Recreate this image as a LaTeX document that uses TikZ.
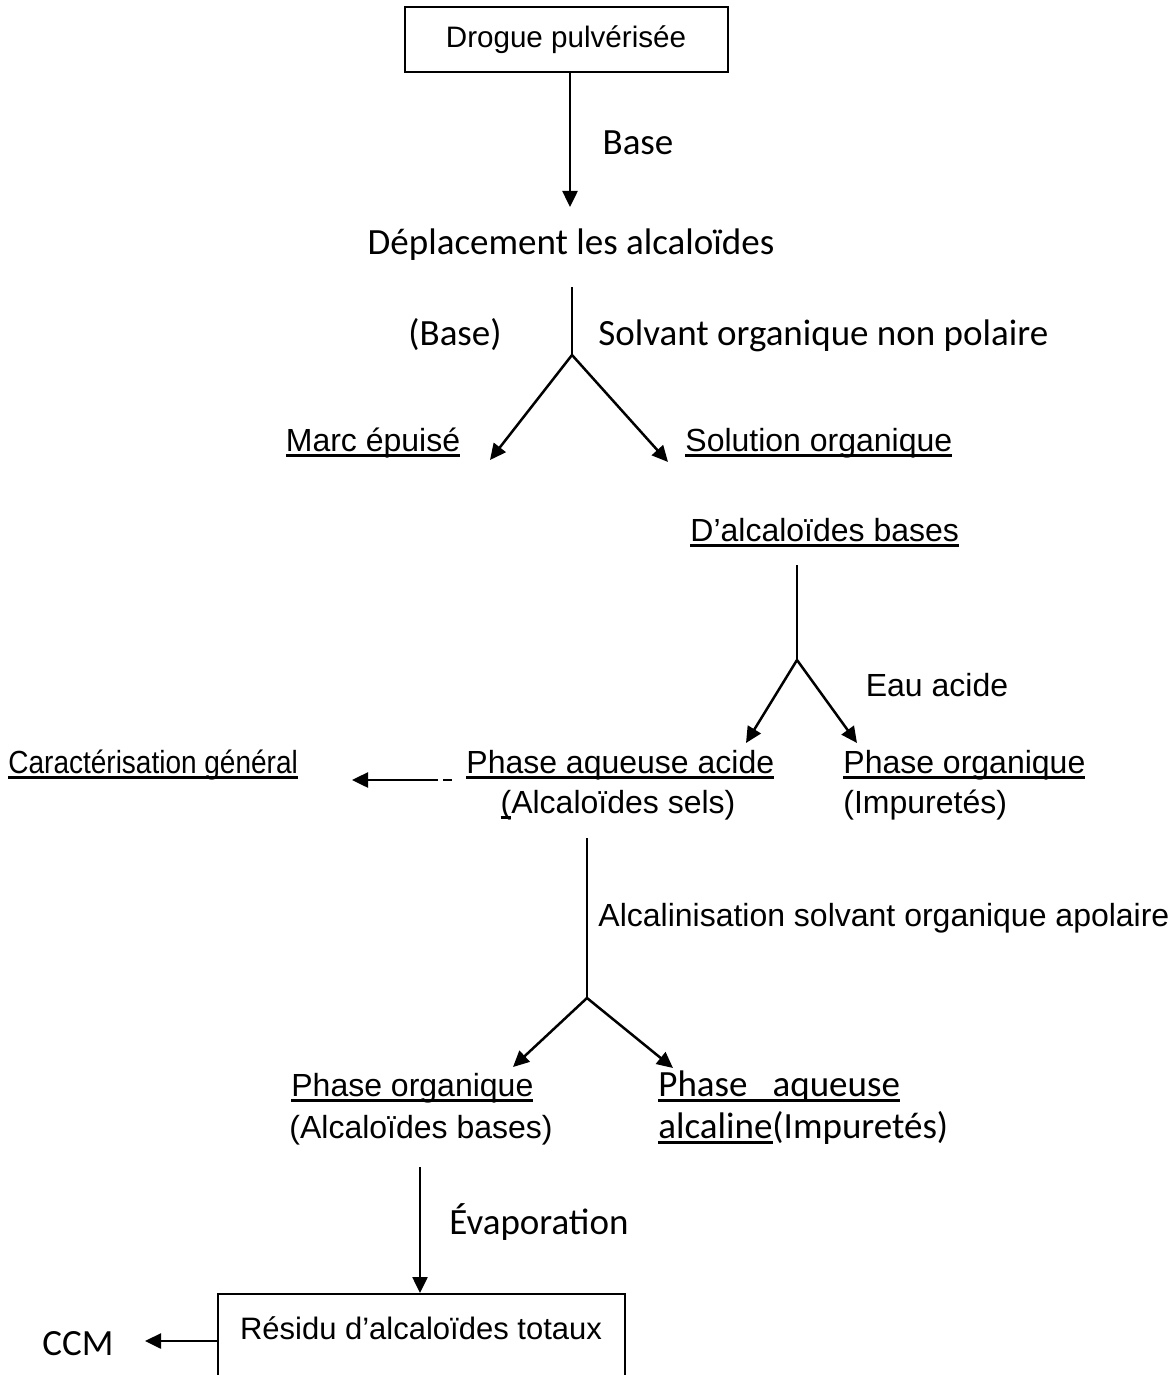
\documentclass[tikz,border=0pt]{standalone}
\usepackage{fontspec}
\setmainfont{Liberation Sans}
\newfontfamily\calibri{Carlito}
\newfontfamily\narrowsans[FakeStretch=0.875]{Liberation Sans}
\usetikzlibrary{arrows.meta}
\newdimen\pxunit
\setlength{\pxunit}{0.5pt}
\newcommand{\ulbox}[1]{\setbox0\hbox{#1}\rlap{\rule[-2.8pt]{\wd0}{1.4pt}}\box0}
\newcommand{\txtA}{\fontsize{16}{19}\selectfont}
\newcommand{\txtC}{\calibri\fontsize{18.5}{22}\selectfont}

\begin{document}
\begin{tikzpicture}[x=\pxunit,y=-\pxunit]
\tikzset{lbl/.style={inner sep=0pt, font=\txtA}}%
\tikzset{cal/.style={inner sep=0pt, font=\txtC}}%
\tikzset{arr/.style={line width=1.25pt, -{Triangle[length=8pt,width=7.5pt]}}}%
\tikzset{ln/.style={line width=1.2pt}}%
\tikzset{boxline/.style={draw, line width=1pt}}%
\useasboundingbox (0,0) rectangle (1174,1375);
\clip (0,0) rectangle (1174,1375);
% boxes
\node[boxline, inner sep=0pt, font=\fontsize{14.8}{18}\selectfont, minimum width=161.5pt, minimum height=32.5pt] (drogue) at (566,40) {Drogue pulv\'eris\'ee};
\node[boxline, minimum width=203.5pt, minimum height=60pt, anchor=north] (residubox) at (421,1293) {};
\node[lbl, font=\fontsize{15.5}{19}\selectfont, anchor=base] (residu) at (421,1339) {R\'esidu d’alcalo\"ides totaux};
% texts
\node[cal, anchor=base] (base) at (638,155) {Base};
\node[cal, anchor=base] (deplacement) at (571,255) {D\'eplacement les alcalo\"ides};
\node[cal, anchor=base] (basepar) at (455,345) {(Base)};
\node[cal, anchor=base west] (solvant) at (598,345) {Solvant organique non polaire};
\node[lbl, anchor=base] (marc) at (373,451) {\ulbox{Marc \'epuis\'e}};
\node[lbl, anchor=base west] (solution) at (685,451) {\ulbox{Solution organique}};
\node[lbl, anchor=base west] (dalcal) at (690,541) {\ulbox{D’alcalo\"ides bases}};
\node[lbl, anchor=base] (eau) at (937,696) {Eau acide};
\node[lbl, anchor=base west] (aqacid) at (466,773) {\ulbox{Phase aqueuse acide}};
\node[lbl, anchor=base] (alcsels) at (618,813) {\ulbox{(}Alcalo\"ides sels)};
\node[lbl, anchor=base west] (orgimp) at (843,773) {\ulbox{Phase organique}};
\node[lbl, anchor=base west] (impur) at (843,813) {(Impuret\'es)};
\node[inner sep=0pt, font=\narrowsans\fontsize{16}{19}\selectfont, anchor=base west] (caract) at (8,773) {\ulbox{Caract\'erisation g\'en\'eral}};
\node[lbl, anchor=base west] (alcalin) at (598,926) {Alcalinisation solvant organique apolaire};
\node[lbl, anchor=base west] (orgbase) at (291,1096) {\ulbox{Phase organique}};
\node[lbl, anchor=base west] (alcbases) at (289,1138) {(Alcalo\"ides bases)};
\node[cal, anchor=base west] (aqalc) at (658,1096) {\ulbox{Phase\ \ \ aqueuse}};
\node[cal, anchor=base west] (alcaline) at (658,1138) {\ulbox{alcaline}(Impuret\'es)};
\node[cal, anchor=base west] (evap) at (449,1234) {\'Evaporation};
\node[cal, anchor=base] (ccm) at (78,1355) {CCM};
% forks and arrow ends
\coordinate (a1) at (570,207);
\coordinate (t1) at (572,287);
\coordinate (f1) at (572,355);
\coordinate (m1) at (490,460);
\coordinate (s1) at (668,462);
\coordinate (t2) at (797,565);
\coordinate (f2) at (797,660);
\coordinate (m2) at (746,743);
\coordinate (s2) at (857,743);
\coordinate (t3) at (587,838);
\coordinate (f3) at (587,998);
\coordinate (m3) at (513,1067);
\coordinate (s3) at (673,1068);
\coordinate (t4) at (420,1167);
\coordinate (c1) at (452,780);
\coordinate (c2) at (352,780);
% connectors
\draw[arr] (drogue.south -| a1) -- (a1);
\draw[ln] (t1) -- (f1);
\draw[arr] (f1) -- (m1);
\draw[arr] (f1) -- (s1);
\draw[ln] (t2) -- (f2);
\draw[arr] (f2) -- (m2);
\draw[arr] (f2) -- (s2);
\draw[arr, dash pattern=on 4.5pt off 2.5pt on 200pt] (c1) -- (c2);
\draw[ln] (t3) -- (f3);
\draw[arr] (f3) -- (m3);
\draw[arr] (f3) -- (s3);
\draw[arr] (t4) -- (residubox.north -| t4);
\draw[arr] (residubox.west |- 0,1341) -- (145,1341);
\end{tikzpicture}
\end{document}
